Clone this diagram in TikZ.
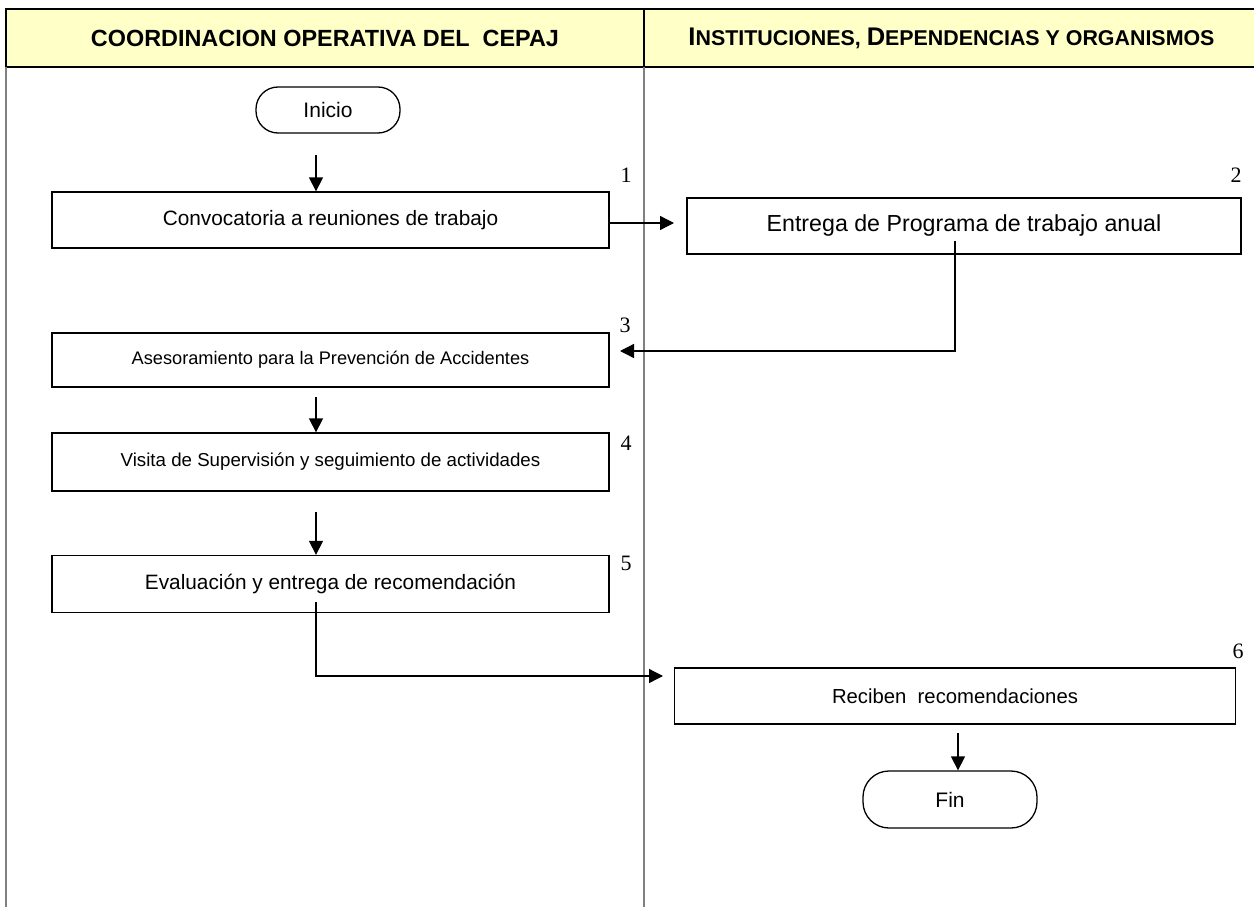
\documentclass[tikz,border=0pt]{standalone}
\usepackage{fontspec}
\setmainfont{Liberation Sans}
\newfontfamily\numfont{Liberation Serif}
\usetikzlibrary{arrows.meta}
\definecolor{hdrfill}{RGB}{255,255,200}
\definecolor{lanegray}{RGB}{128,128,128}
\newcommand{\bigc}[1]{{\fontsize{25.5}{28}\selectfont #1}}
\begin{document}
\begin{tikzpicture}[x=1pt,y=-1pt,
  stepbox/.style={draw, line width=1.3pt, minimum width=557pt, minimum height=56pt, inner sep=0pt, font=\fontsize{20.8}{24}\selectfont},
  term/.style={draw, line width=1.3pt, rounded corners=22pt, inner sep=0pt, font=\fontsize{21}{24}\selectfont},
  arr/.style={line width=1.3pt, -{Triangle[length=14pt,width=14pt]}},
  lane/.style={draw=lanegray, line width=1.6pt},
  num/.style={font=\numfont\fontsize{22}{24}\selectfont, inner sep=0pt},
  hdr/.style={font=\bfseries\fontsize{23.4}{28}\selectfont, inner sep=0pt}]
\useasboundingbox (0,0) rectangle (1254,907);
% header
\fill[hdrfill] (6,9) rectangle (1260,67);
\draw[line width=2.6pt] (1260,9) -- (6,9) -- (6,67) -- (1260,67);
\draw[line width=2pt] (644,9) -- (644,67);
\node[hdr] (h1) at (325,38) {COORDINACION OPERATIVA DEL\ \ CEPAJ};
\node[hdr, font=\bfseries\fontsize{21.4}{24}\selectfont] (h2) at (951.5,38) {\bigc{I}NSTITUCIONES, \bigc{D}EPENDENCIAS Y ORGANISMOS};
% lanes
\draw[lane] (6,67) -- (6,907);
\draw[lane] (644,67) -- (644,907);
% nodes
\node[term, minimum width=144pt, minimum height=46pt] (ini) at (328,110) {Inicio};
\node[stepbox] (b1) at (330.5,220) {Convocatoria a reuniones de trabajo};
\node[stepbox, minimum width=554pt, minimum height=56pt, font=\fontsize{23.2}{28}\selectfont] (b2) at (964,226) {Entrega de Programa de trabajo anual};
\node[stepbox, minimum height=54pt, font=\fontsize{18.2}{22}\selectfont] (b3) at (330.5,360) {Asesoramiento para la Prevención de Accidentes};
\node[stepbox, minimum height=58pt, font=\fontsize{18.7}{22}\selectfont] (b4) at (330.5,462) {Visita de Supervisión y seguimiento de actividades};
\node[stepbox, minimum height=57pt] (b5) at (330.5,584) {Evaluación y entrega de recomendación};
\node[stepbox, minimum width=561pt, minimum height=56pt, font=\fontsize{20.3}{24}\selectfont] (b6) at (955,696) {Reciben\ \ recomendaciones};
\node[term, minimum width=174pt, minimum height=57pt, rounded corners=26pt] (fin) at (950,799.5) {Fin};
% numbers
\node[num] (n1) at (626,175) {1};
\node[num] (n2) at (1236,175) {2};
\node[num] (n3) at (625,325) {3};
\node[num] (n4) at (626,443) {4};
\node[num] (n5) at (626,563) {5};
\node[num] (n6) at (1238,651) {6};
% connectors
\coordinate (s1) at (316,155);
\draw[arr] (s1) -- (s1 |- b1.north);
\coordinate (t2) at (674,223);
\draw[arr] (b1.east |- t2) -- (t2);
\coordinate (s3) at (955,241);
\coordinate (t3) at (620,351);
\draw[arr] (s3) |- (t3);
\coordinate (s4) at (316,397);
\draw[arr] (s4) -- (s4 |- b4.north);
\coordinate (s5) at (316,512);
\draw[arr] (s5) -- (s5 |- b5.north);
\coordinate (s6) at (316,602);
\coordinate (t6) at (663,676);
\draw[arr] (s6) |- (t6);
\coordinate (s7) at (958,733);
\draw[arr] (s7) -- (s7 |- fin.north);
\end{tikzpicture}
\end{document}
